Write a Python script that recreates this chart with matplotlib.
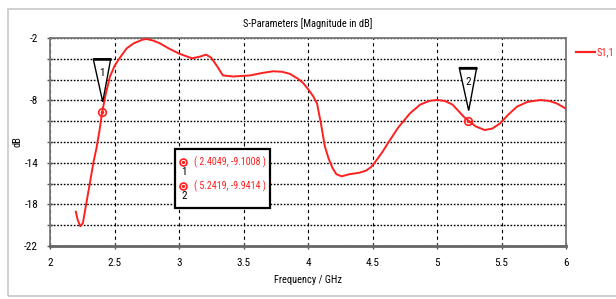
import numpy as np
import matplotlib
matplotlib.use('Agg')
import matplotlib.pyplot as plt
from matplotlib import font_manager
from matplotlib.patches import Polygon, Rectangle
from matplotlib.transforms import ScaledTranslation

# ---------------- data ----------------
freq = [2.200, 2.215, 2.235, 2.255, 2.28, 2.31, 2.336, 2.36, 2.385, 2.4049, 2.43, 2.465,
        2.50, 2.53, 2.594, 2.65, 2.72, 2.75, 2.80, 2.85, 2.92, 3.00, 3.10, 3.16, 3.21,
        3.25, 3.30, 3.34, 3.42, 3.55, 3.65, 3.73, 3.80, 3.86, 3.92, 3.96, 4.00, 4.04,
        4.07, 4.10, 4.13, 4.16, 4.19, 4.22, 4.26, 4.32, 4.40, 4.45, 4.49, 4.54, 4.58,
        4.62, 4.70, 4.79, 4.87, 4.94, 5.00, 5.06, 5.12, 5.18, 5.21, 5.2419, 5.30, 5.37,
        5.43, 5.49, 5.55, 5.62, 5.70, 5.80, 5.87, 5.93, 6.00]
s11 = [-18.7, -19.5, -20.1, -19.8, -18.0, -15.9, -14.0, -12.6, -10.8, -9.1008, -7.5, -5.7,
       -4.7, -4.1, -3.0, -2.5, -2.15, -2.1, -2.25, -2.5, -3.0, -3.5, -3.95, -3.8, -3.6,
       -3.9, -4.8, -5.6, -5.7, -5.6, -5.35, -5.2, -5.25, -5.45, -5.9, -6.3, -6.9, -7.6,
       -8.3, -10.2, -12.4, -13.6, -14.5, -15.1, -15.3, -15.1, -14.95, -14.75, -14.4, -13.6, -12.9,
       -12.1, -10.6, -9.25, -8.4, -8.05, -7.96, -8.05, -8.4, -9.2, -9.6, -9.9414, -10.5, -10.85,
       -10.7, -10.2, -9.4, -8.6, -8.15, -7.96, -8.05, -8.3, -8.8]

marker_ids = ['1', '2']
marker_f = [2.4049, 5.2419]
marker_db = [-9.1008, -9.9414]

x_ticks = [2, 2.5, 3, 3.5, 4, 4.5, 5, 5.5, 6]
x_labels = ['2', '2.5', '3', '3.5', '4', '4.5', '5', '5.5', '6']
y_ticks = [-22, -20, -18, -16, -14, -12, -10, -8, -6, -4, -2]
y_labels = ['-22', '', '-18', '', '-14', '', '', '-8', '', '', '-2']

# ---------------- font ----------------
avail = {f.name for f in font_manager.fontManager.ttflist}
fam = 'DejaVu Sans'
for cand in ['Liberation Sans Narrow', 'DejaVu Sans Condensed', 'Roboto Condensed']:
    if cand in avail:
        fam = cand
        break
plt.rcParams['font.family'] = [fam, 'DejaVu Sans']
plt.rcParams['font.size'] = 7.5

red = '#ff2020'

fig = plt.figure(figsize=(6.16, 2.99), dpi=100)
ax = fig.add_axes([50 / 616, 1 - 246 / 299, 516 / 616, 208 / 299])

# grey frame around the whole plot window
fig.patches.append(Rectangle((8 / 616, 3 / 299), 1.0, 287 / 299, transform=fig.transFigure,
                             fill=False, edgecolor='#c8c8c8', linewidth=1.2))

ax.plot(freq, s11, color=red, linewidth=1.4, zorder=4, label='S1,1')

ax.set_xlim(2, 6)
ax.set_ylim(-22, -2)
ax.set_xticks(x_ticks)
ax.set_xticklabels(x_labels)
ax.set_yticks(y_ticks)
ax.set_yticklabels(y_labels)
ax.tick_params(direction='inout', length=5, width=1, color='#555555', pad=6, labelsize=8)

ax.yaxis.grid(True, color='black', linestyle=(0, (1.2, 1.2)), linewidth=1.0)
ax.xaxis.grid(True, color='black', linestyle=(0, (3, 3)), linewidth=0.8)
ax.set_axisbelow(True)

for s in ['top', 'right', 'left']:
    ax.spines[s].set_color('#777777')
    ax.spines[s].set_linewidth(1.3)
ax.spines['bottom'].set_color('#666666')
ax.spines['bottom'].set_linewidth(2.0)

ax.set_title('S-Parameters [Magnitude in dB]', fontsize=7.5, pad=8)
ax.set_xlabel('Frequency / GHz', fontsize=7.5, labelpad=5)
ax.set_ylabel('dB', fontsize=7.5, labelpad=1)

# marker circles, triangles and numbers
for mid, mf, md in zip(marker_ids, marker_f, marker_db):
    ax.plot(mf, md, 'o', markersize=5.5, markerfacecolor='none', markeredgecolor=red,
            markeredgewidth=1.2, zorder=5)
    ax.plot(mf, md, 'o', markersize=1.5, color=red, zorder=5)
    trans = fig.dpi_scale_trans + ScaledTranslation(mf, md, ax.transData)
    tri = Polygon([(0.005, 0.10), (-0.09, 0.53), (0.085, 0.53)], closed=True,
                  facecolor='white', edgecolor='black', linewidth=1.0, transform=trans, zorder=6)
    ax.add_patch(tri)
    ax.plot([-0.09, 0.085], [0.53, 0.53], color='black', linewidth=1.8, transform=trans,
            zorder=7, solid_capstyle='butt')
    ax.text(0.0, 0.39, mid, transform=trans, ha='center', va='center', fontsize=8, zorder=8)

# marker info box
box = Rectangle((175 / 616, 1 - 208 / 299), 95 / 616, 59 / 299, transform=fig.transFigure,
                facecolor='white', edgecolor='black', linewidth=1.6, zorder=10)
fig.patches.append(box)
rows_y = [162, 186]
for mid, mf, md, ry in zip(marker_ids, marker_f, marker_db, rows_y):
    fig.lines.append(plt.Line2D([183 / 616], [1 - ry / 299], marker='o', markersize=5,
                                markerfacecolor='none', markeredgecolor=red, markeredgewidth=1.2,
                                transform=fig.transFigure, zorder=11))
    fig.lines.append(plt.Line2D([183 / 616], [1 - ry / 299], marker='o', markersize=1.4, color=red,
                                transform=fig.transFigure, zorder=11))
    fig.text(184 / 616, 1 - (ry + 10) / 299, mid, ha='center', va='center', fontsize=8, zorder=12)
    fig.text(194 / 616, 1 - ry / 299, '( %.4f, %.4f )' % (mf, md), color=red, ha='left',
             va='center', fontsize=7.2, zorder=12)

# legend at right
fig.lines.append(plt.Line2D([576 / 616, 595 / 616], [1 - 52 / 299, 1 - 52 / 299], color=red,
                            linewidth=1.6, transform=fig.transFigure))
fig.text(597 / 616, 1 - 52 / 299, 'S1,1', color=red, ha='left', va='center', fontsize=7.5)

fig.savefig('out.png', dpi=100)
